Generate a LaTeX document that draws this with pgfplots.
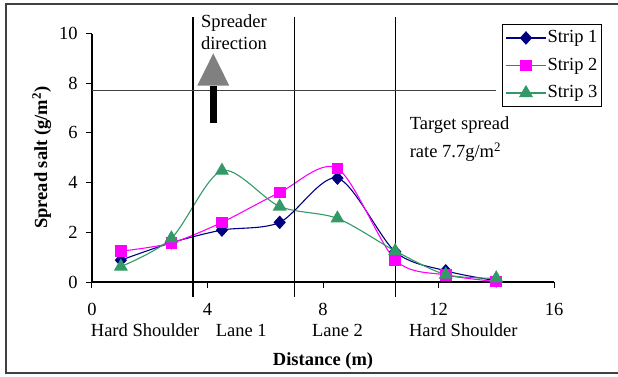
\documentclass[border=0pt]{standalone}
\usepackage{fontspec}
\setmainfont{Liberation Serif}
\usepackage{pgfplots}
\pgfplotsset{compat=1.18}
\definecolor{sone}{RGB}{0,0,128}
\definecolor{stwo}{RGB}{255,0,255}
\definecolor{sthree}{RGB}{51,153,102}
\pgfplotstableread{
x y
1 0.88
2.75 1.58
4.5 2.09
6.5 2.40
8.5 4.18
10.5 1.22
12.25 0.45
14 0.05
}\stripone
\pgfplotstableread{
x y
1 1.24
2.75 1.57
4.5 2.40
6.5 3.60
8.5 4.57
10.5 0.89
12.25 0.28
14 0.02
}\striptwo
\pgfplotstableread{
x y
1 0.62
2.75 1.76
4.5 4.48
6.5 3.04
8.5 2.56
10.5 1.25
12.25 0.30
14 0.15
}\stripthree
\begin{document}
\fontsize{18.5}{22}\selectfont
\begin{tikzpicture}
\useasboundingbox (-92pt,-94pt) rectangle (526pt,282pt);
\draw[line width=1.5pt, black!75] (560pt,278pt) -- (-86pt,278pt) -- (-86pt,-91pt) -- (560pt,-91pt);
\begin{axis}[
  anchor=origin, at={(0,0)},
  scale only axis, width=462pt, height=248.5pt,
  xmin=0, xmax=16, ymin=0, ymax=10,
  axis lines=left, axis line style={-, line width=1.2pt},
  xtick={0,4,...,16}, ytick={0,2,...,10},
  tick align=outside, major tick length=6pt,
  tick style={line width=1pt, black},
  minor tick num=0,
  clip=false,
  /pgf/number format/assume math mode=true,
  ticklabel style={font=\fontsize{18.5}{22}\selectfont},
  xticklabel style={yshift=-9pt},
  yticklabel style={xshift=-2pt},
  legend style={at={(axis cs:14.2,10.38)}, anchor=north west,
    draw=black, line width=0.8pt, font=\fontsize{18.5}{22}\selectfont,
    inner xsep=3pt, inner ysep=5pt, row sep=10.5pt,
    nodes={inner sep=1pt}},
  legend cell align=left,
  legend image code/.code={\draw[mark repeat=2,mark phase=2] plot coordinates {(0pt,0pt) (20pt,0pt) (40pt,0pt)};},
  every axis plot/.append style={line width=1.1pt},
]
\addplot[sone, smooth, mark=diamond*, mark size=6pt, mark options={xscale=1.2, solid}] table {\stripone};
\addlegendentry{Strip 1}
\addplot[stwo, smooth, mark=square*, mark size=5.3pt, mark options={solid}] table {\striptwo};
\addlegendentry{Strip 2}
\addplot[sthree, smooth, mark=triangle*, mark size=7pt, mark options={solid}] table {\stripthree};
\addlegendentry{Strip 3}
% reference lines
\draw[black, line width=1.2pt] (axis cs:3.5,10.66) -- (axis cs:3.5,-0.62);
\draw[black, line width=1.2pt] (axis cs:7,10.66) -- (axis cs:7,-0.62);
\draw[black, line width=1.2pt] (axis cs:10.5,10.66) -- (axis cs:10.5,-0.62);
\draw[black!75, line width=1.4pt] (axis cs:0,7.7) -- (axis cs:14,7.7);
% spreader arrow
\fill[gray] (axis cs:3.645,7.9) -- (axis cs:4.755,7.9) -- (axis cs:4.2,9.2) -- cycle;
\fill[black] (axis cs:4.09,6.41) rectangle (axis cs:4.32,7.9);
% texts
\node[anchor=base west, inner sep=0pt] at (axis cs:3.77,10.26) {Spreader};
\node[anchor=base west, inner sep=0pt] at (axis cs:3.77,9.34) {direction};
\node[anchor=base west, inner sep=0pt] at (axis cs:11.0,6.14) {Target spread};
\node[anchor=base west, inner sep=0pt] at (axis cs:11.0,5.0) {rate 7.7g/m\textsuperscript{2}};
\node[anchor=base, inner sep=0pt, yshift=-54pt] at (axis cs:1.84,0) {Hard Shoulder};
\node[anchor=base, inner sep=0pt, yshift=-54pt] at (axis cs:5.17,0) {Lane 1};
\node[anchor=base, inner sep=0pt, yshift=-54pt] at (axis cs:8.5,0) {Lane 2};
\node[anchor=base, inner sep=0pt, yshift=-54pt] at (axis cs:12.86,0) {Hard Shoulder};
\node[anchor=base, inner sep=0pt, yshift=-83pt, font=\bfseries] at (axis cs:8,0) {Distance (m)};
\node[rotate=90, anchor=center, inner sep=0pt, font=\bfseries] at (axis cs:-1.74,5) {Spread salt (g/m\textsuperscript{2})};
\end{axis}
\end{tikzpicture}
\end{document}
